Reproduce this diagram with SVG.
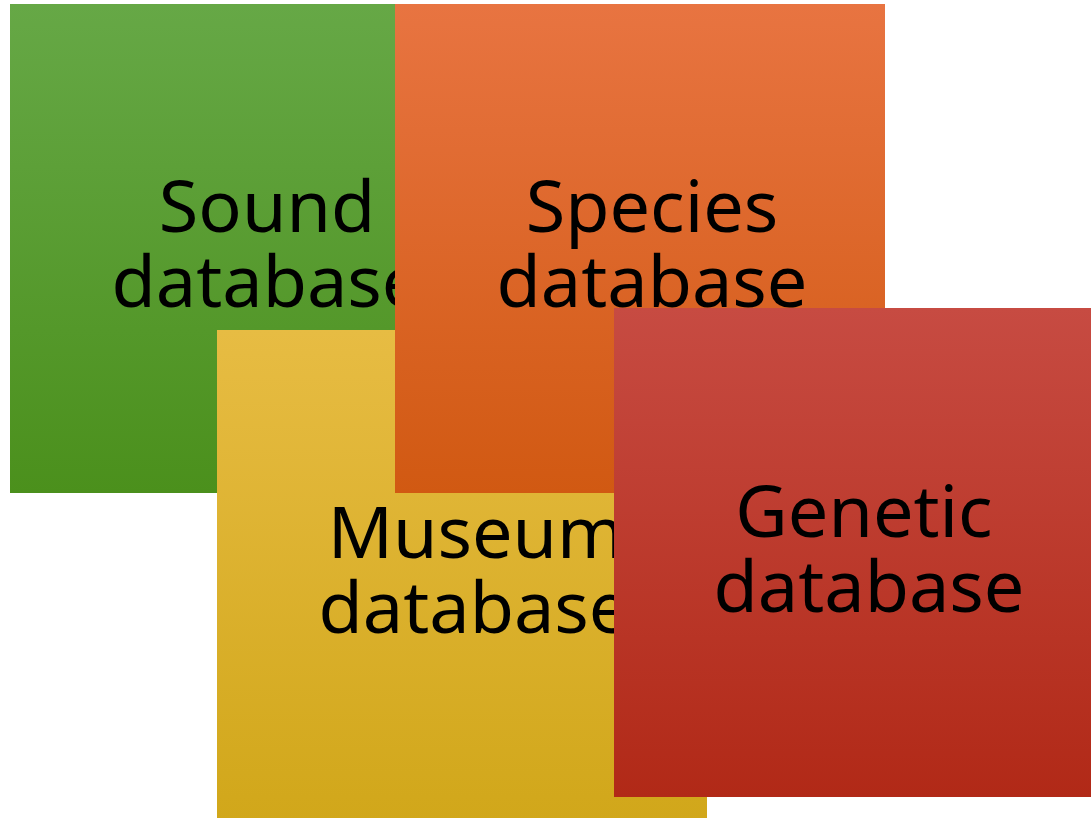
<svg xmlns="http://www.w3.org/2000/svg" width="1091" height="818" viewBox="0 0 1091 818">
  <defs>
    <linearGradient id="gGreen" x1="0" y1="0" x2="0" y2="1">
      <stop offset="0" stop-color="#66a846"/>
      <stop offset="1" stop-color="#4b901c"/>
    </linearGradient>
    <linearGradient id="gOrange" x1="0" y1="0" x2="0" y2="1">
      <stop offset="0" stop-color="#e87441"/>
      <stop offset="1" stop-color="#d15912"/>
    </linearGradient>
    <linearGradient id="gYellow" x1="0" y1="0" x2="0" y2="1">
      <stop offset="0" stop-color="#e7bc43"/>
      <stop offset="1" stop-color="#d1a71a"/>
    </linearGradient>
    <linearGradient id="gRed" x1="0" y1="0" x2="0" y2="1">
      <stop offset="0" stop-color="#c74b42"/>
      <stop offset="1" stop-color="#b12917"/>
    </linearGradient>
  </defs>
  <style>
    .lbl { font-family: "Noto Sans", "Open Sans", "Liberation Sans", sans-serif; font-size: 72px; fill: #000; text-anchor: middle; }
  </style>
  <rect width="1091" height="818" fill="#ffffff"/>
  <g id="sound">
    <rect x="10" y="4" width="490" height="489" fill="url(#gGreen)"/>
    <text class="lbl" x="267" y="232"><tspan x="267">Sound</tspan><tspan x="267" dy="75">database</tspan></text>
  </g>
  <g id="museum">
    <rect x="217" y="330" width="490" height="490" fill="url(#gYellow)"/>
    <text class="lbl" x="474" y="558"><tspan x="476">Museum</tspan><tspan x="474" dy="75">database</tspan></text>
  </g>
  <g id="species">
    <rect x="395" y="4" width="490" height="489" fill="url(#gOrange)"/>
    <text class="lbl" x="652" y="232"><tspan x="652">Species</tspan><tspan x="652" dy="75">database</tspan></text>
  </g>
  <g id="genetic">
    <rect x="614" y="308" width="490" height="489" fill="url(#gRed)"/>
    <text class="lbl" x="866" y="537"><tspan x="864">Genetic</tspan><tspan x="869" dy="75">database</tspan></text>
  </g>
  <g id="connectors"/>
</svg>
